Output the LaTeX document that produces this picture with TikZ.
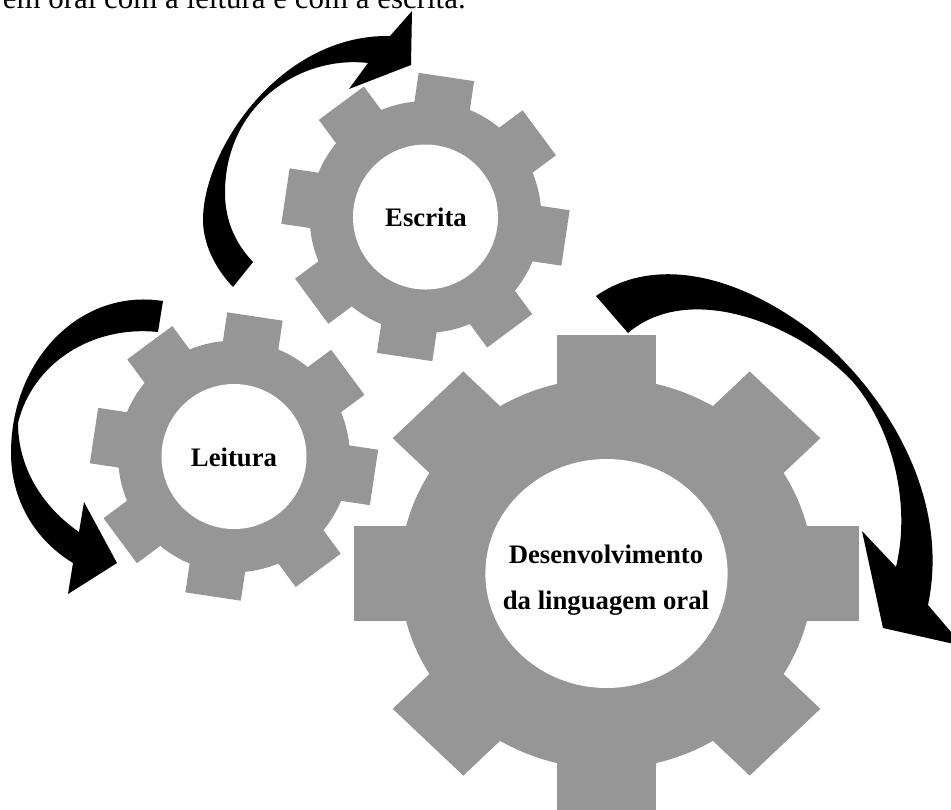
\documentclass[tikz,border=0pt]{standalone}
\usepackage{fontspec}
\setmainfont{Liberation Serif}
\usepackage{xcolor}
\usetikzlibrary{positioning}
\definecolor{geargray}{RGB}{150, 150, 150}
\newcommand{\gearshape}[1]{%
    \foreach \a in {0,45,...,315}
        \fill[geargray, rotate=\a] (0.7,-0.196) rectangle (0.99,0.196);
    \fill[geargray] (0,0) circle (0.81);
    \fill[white] (0,0) circle (#1);
}
\tikzset{
    gearlabel/.style={font=\fontsize{15.2}{26.2}\selectfont\bfseries, align=center, text=black, inner sep=0pt},
    bendarrow/.style={fill=black}
}
\begin{document}
\begin{tikzpicture}[x=0.02cm, y=-0.02cm]
    \clip (0,0) rectangle (951,809);

    % gears
    \begin{scope}[shift={(425.5,217)}, rotate=-8.5, scale=143]
        \gearshape{0.507}
    \end{scope}
    \begin{scope}[shift={(234,456.5)}, rotate=-8.5, scale=143]
        \gearshape{0.507}
    \end{scope}
    \begin{scope}[shift={(606.5,573.5)}, xscale=255, yscale=241]
        \gearshape{0.475}
    \end{scope}

    \node[gearlabel, anchor=base] (escrita) at (426,226) {Escrita};
    \node[gearlabel, anchor=base] (leitura) at (234,466) {Leitura};
    \node[gearlabel] (desenvolvimento) at (606,580) {Desenvolvimento\\da linguagem oral};

    % arrows
    \fill[bendarrow] (233,287) .. controls (212,265) and (203,240) .. (203,220)
        .. controls (203,150) and (280,34) .. (390,36)
        -- (412,11) -- (411,65) -- (349,89) -- (368,63)
        .. controls (300,55) and (225,105) .. (225,193)
        .. controls (225,220) and (235,243) .. (253,262) -- cycle;

    \fill[bendarrow] (163,301) .. controls (80,288) and (11,360) .. (11,453)
        .. controls (11,500) and (35,540) .. (73,563)
        -- (68,594) -- (117,563) -- (84,502) -- (79,532)
        .. controls (40,505) and (18,465) .. (18,423)
        .. controls (32,365) and (90,325) .. (158,332) -- cycle;

    \fill[bendarrow] (596,296) .. controls (650,258) and (730,270) .. (810,330)
        .. controls (890,395) and (950,500) .. (928,605)
        -- (963,646) -- (883,628) -- (862,531) -- (896,567)
        .. controls (912,500) and (890,425) .. (853,382)
        .. controls (800,325) and (690,280) .. (628,333) -- cycle;

    % line above the figure, cut by the page edge
    \node[font=\fontsize{17.6}{20}\selectfont, anchor=base east, inner sep=0pt] (linhatopo) at (466,8) {em oral com a leitura e com a escrita.};
\end{tikzpicture}
\end{document}
